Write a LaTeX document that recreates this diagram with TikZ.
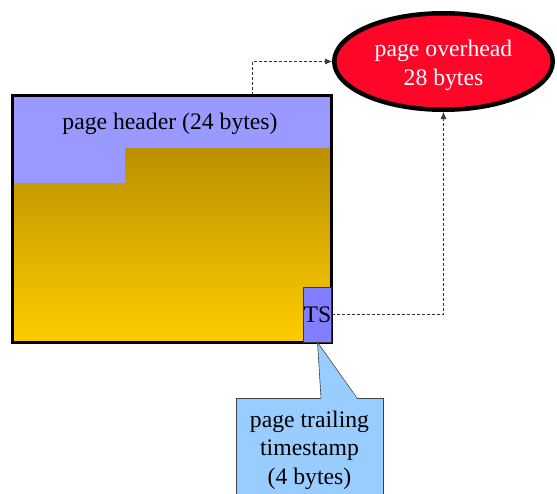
\documentclass[tikz,border=0pt]{standalone}
\usepackage{fontspec}
\setmainfont{Liberation Serif}
\usepackage{xcolor}
\definecolor{HeaderLilac}{HTML}{9999FF}
\definecolor{GoldTop}{HTML}{BB9000}
\definecolor{GoldBottom}{HTML}{FFCC00}
\definecolor{StampBlue}{HTML}{7F7FFF}
\definecolor{OverheadRed}{HTML}{FF0628}
\definecolor{NoteBlue}{HTML}{99CCFF}
\usepackage{tikz}
\usetikzlibrary{arrows.meta,shapes.geometric}

\begin{document}
\begin{tikzpicture}[x=1pt,y=-1pt,
  txt/.style={align=center,font=\fontsize{23.7}{28.5}\selectfont,inner sep=0pt},
  pageframe/.style={draw,line width=3pt,minimum width=319pt,minimum height=247pt,inner sep=0pt},
  stamp/.style={txt,draw=black!80,line width=0.6pt,fill=StampBlue,minimum width=27pt,minimum height=55pt},
  overhead/.style={txt,ellipse,draw,line width=4.5pt,fill=OverheadRed,text=white,minimum width=218.5pt,minimum height=96.5pt},
  note/.style={txt,draw=black!75,line width=0.6pt,fill=NoteBlue,minimum width=147pt,minimum height=104pt},
  conn/.style={dash pattern=on 3pt off 2pt,line width=0.6pt,black!80,-{Latex[length=7pt,width=6pt]}}
]
  \useasboundingbox (0,0) rectangle (557,493);
  \clip (0,0) rectangle (557,493);

  \shade[top color=GoldTop,bottom color=GoldBottom] (12,148) rectangle (331,342);
  \fill[HeaderLilac] (12,95) -- (331,95) -- (331,148) -- (125,148) -- (125,183) -- (12,183) -- cycle;
  \node[pageframe] (page) at (171.5,218.5) {};
  \node[txt] (header) at (170,124) {page header (24 bytes)};
  \node[stamp] (ts) at (317.5,314.5) {TS};

  \node[overhead] (ovh) at (443.5,61.5) {\rule{0pt}{24pt}page overhead\\28 bytes};

  \node[note,anchor=north] (note) at (309.5,398) {page trailing\\timestamp\\(4 bytes)};
  \coordinate (base l) at (321,398);
  \coordinate (base r) at (357,398);
  \fill[NoteBlue] ([yshift=-1pt]base l) -- (ts.south) -- ([yshift=-1pt]base r) -- cycle;
  \draw[black!75,line width=0.6pt] (base l) -- (ts.south) -- (base r);

  \coordinate (tap) at (252,95);
  \draw[conn] (tap) |- (ovh.west);
  \draw[conn] (ts.east) -| (ovh.south);
\end{tikzpicture}
\end{document}
